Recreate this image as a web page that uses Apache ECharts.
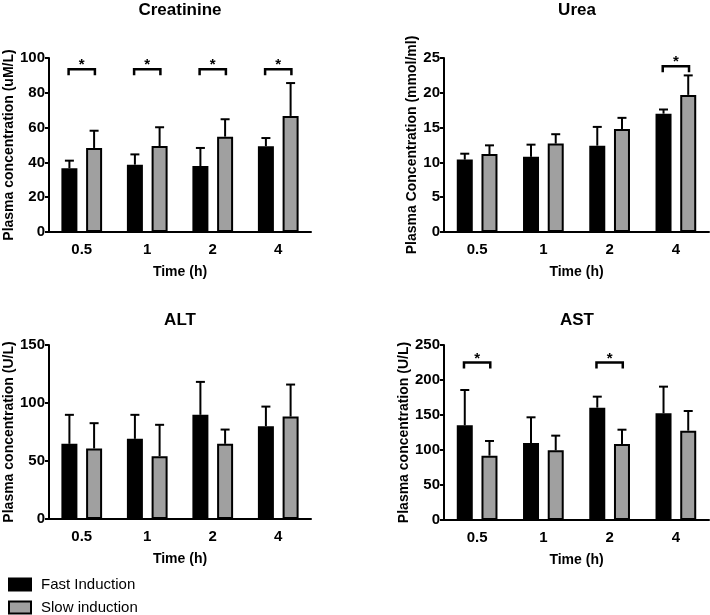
<!DOCTYPE html>
<html>
<head>
<meta charset="utf-8">
<script src="https://cdn.jsdelivr.net/npm/echarts@6/dist/echarts.min.js"></script>
<style>
  html, body { margin: 0; padding: 0; background: #fff; }
  #main { width: 710px; height: 615px; }
</style>
</head>
<body>
<div id="main"></div>
<script>
// time points (h)
var times = ['0.5', '1', '2', '4'];

// Creatinine (uM/L)
var creatFast = [36.6, 38.7, 37.9, 49.3];
var creatFastSd = [4.4, 5.9, 10.4, 4.7];
var creatSlow = [48.3, 49.4, 54.8, 66.7];
var creatSlowSd = [9.9, 10.8, 10.0, 18.9];
var creatSig = [[0, 93.5], [1, 93.5], [2, 93.5], [3, 93.5]];

// Urea (mmol/ml)
var ureaFast = [10.4, 10.8, 12.4, 17.0];
var ureaFastSd = [0.85, 1.75, 2.7, 0.6];
var ureaSlow = [11.2, 12.7, 14.8, 19.7];
var ureaSlowSd = [1.25, 1.35, 1.6, 2.8];
var ureaSig = [[3, 23.8]];

// ALT (U/L)
var altFast = [64.8, 69.1, 89.8, 80.0];
var altFastSd = [25.0, 20.7, 28.4, 16.9];
var altSlow = [60.8, 54.2, 64.8, 88.3];
var altSlowSd = [21.8, 27.0, 12.3, 27.6];
var altSig = [];

// AST (U/L)
var astFast = [135.2, 110.0, 160.5, 152.4];
var astFastSd = [50.5, 36.7, 15.7, 38.1];
var astSlow = [91.9, 99.5, 108.6, 127.6];
var astSlowSd = [21.0, 21.0, 20.4, 28.1];
var astSig = [[0, 225], [2, 225]];

var FONT = '"Liberation Sans", Arial, sans-serif';
var BAR_W = 16;
var GAP = 8.7;
var OFF = (BAR_W + GAP) / 2;

var myChart = echarts.init(document.getElementById('main'));

var panels = [
  {title: 'Creatinine', tx: 180, ty: 10, yName: 'Plasma concentration (uM/L)', max: 100, step: 20, nameGap: 33,
   grid: {left: 49, top: 58, width: 262, height: 174},
   fast: creatFast, fastSd: creatFastSd, slow: creatSlow, slowSd: creatSlowSd, sig: creatSig},
  {title: 'Urea', tx: 577, ty: 10, yName: 'Plasma Concentration (mmol/ml)', max: 25, step: 5, nameGap: 25,
   grid: {left: 444, top: 58, width: 265, height: 174},
   fast: ureaFast, fastSd: ureaFastSd, slow: ureaSlow, slowSd: ureaSlowSd, sig: ureaSig},
  {title: 'ALT', tx: 180, ty: 320, yName: 'Plasma concentration (U/L)', max: 150, step: 50, nameGap: 33,
   grid: {left: 49, top: 345, width: 262, height: 174},
   fast: altFast, fastSd: altFastSd, slow: altSlow, slowSd: altSlowSd, sig: altSig},
  {title: 'AST', tx: 577, ty: 320, yName: 'Plasma concentration (U/L)', max: 250, step: 50, nameGap: 32,
   grid: {left: 444, top: 345, width: 265, height: 175},
   fast: astFast, fastSd: astFastSd, slow: astSlow, slowSd: astSlowSd, sig: astSig}
];

function errSeries(i, vals, sds, side) {
  return {
    type: 'custom',
    xAxisIndex: i,
    yAxisIndex: i,
    z: 3,
    silent: true,
    data: vals.map(function (v, k) { return [k, v, sds[k]]; }),
    renderItem: function (params, api) {
      var base = api.coord([api.value(0), api.value(1)]);
      var top = api.coord([api.value(0), api.value(1) + api.value(2)]);
      var x = base[0] + side * OFF;
      var st = {stroke: '#000', lineWidth: 2};
      return {type: 'group', children: [
        {type: 'line', shape: {x1: x, y1: base[1], x2: x, y2: top[1]}, style: st},
        {type: 'line', shape: {x1: x - 4.5, y1: top[1], x2: x + 4.5, y2: top[1]}, style: st}
      ]};
    }
  };
}

function sigSeries(i, marks) {
  return {
    type: 'custom',
    xAxisIndex: i,
    yAxisIndex: i,
    z: 3,
    silent: true,
    data: marks,
    renderItem: function (params, api) {
      var p = api.coord([api.value(0), api.value(1)]);
      var l = p[0] - OFF - 0.8, r = p[0] + OFF + 0.8;
      return {type: 'group', children: [
        {type: 'polyline', shape: {points: [[l, p[1] + 6], [l, p[1]], [r, p[1]], [r, p[1] + 6]]},
         style: {stroke: '#000', lineWidth: 2.5, fill: null}},
        {type: 'text', x: p[0], y: p[1] - 4,
         style: {text: '*', fill: '#000', font: 'bold 15px ' + FONT, align: 'center', verticalAlign: 'middle'}}
      ]};
    }
  };
}

function legendItem(name, top) {
  return {
    data: [name],
    left: 8,
    top: top,
    padding: 0,
    itemWidth: 22,
    itemHeight: 12,
    icon: 'rect',
    selectedMode: false,
    textStyle: {fontSize: 15, fontFamily: FONT, color: '#000', padding: [0, 0, 0, 5]}
  };
}

var option = {
  animation: false,
  backgroundColor: '#fff',
  textStyle: {fontFamily: FONT, color: '#000'},
  grid: [],
  xAxis: [],
  yAxis: [],
  series: [],
  graphic: [],
  legend: [legendItem('Fast Induction', 577), legendItem('Slow induction', 600)]
};

panels.forEach(function (p, i) {
  option.grid.push(p.grid);
  option.xAxis.push({
    type: 'category',
    gridIndex: i,
    data: times,
    name: 'Time (h)',
    nameLocation: 'middle',
    nameGap: 33,
    nameTextStyle: {fontWeight: 'bold', fontSize: 14, color: '#000', fontFamily: FONT},
    axisLine: {lineStyle: {color: '#000', width: 2}},
    axisTick: {alignWithLabel: true, length: 4, lineStyle: {color: '#000', width: 2}},
    axisLabel: {fontWeight: 'bold', fontSize: 15, color: '#000', margin: 10, fontFamily: FONT}
  });
  option.yAxis.push({
    type: 'value',
    gridIndex: i,
    min: 0,
    max: p.max,
    interval: p.step,
    name: p.yName,
    nameLocation: 'middle',
    nameGap: p.nameGap,
    nameTextStyle: {fontWeight: 'bold', fontSize: 14, color: '#000', fontFamily: FONT},
    axisLine: {show: true, lineStyle: {color: '#000', width: 2}},
    axisTick: {show: true, length: 4, lineStyle: {color: '#000', width: 2}},
    axisLabel: {fontWeight: 'bold', fontSize: 15, color: '#000', margin: 4, fontFamily: FONT},
    splitLine: {show: false}
  });
  option.series.push({
    type: 'bar',
    name: 'Fast Induction',
    xAxisIndex: i,
    yAxisIndex: i,
    data: p.fast,
    barWidth: BAR_W,
    barGap: (GAP / BAR_W * 100) + '%',
    itemStyle: {color: '#000', borderColor: '#000', borderWidth: 2}
  });
  option.series.push({
    type: 'bar',
    name: 'Slow induction',
    xAxisIndex: i,
    yAxisIndex: i,
    data: p.slow,
    barWidth: BAR_W,
    barGap: (GAP / BAR_W * 100) + '%',
    itemStyle: {color: '#a0a0a0', borderColor: '#000', borderWidth: 2}
  });
  option.series.push(errSeries(i, p.fast, p.fastSd, -1));
  option.series.push(errSeries(i, p.slow, p.slowSd, 1));
  if (p.sig.length) option.series.push(sigSeries(i, p.sig));
  option.graphic.push({
    type: 'text',
    x: p.tx,
    y: p.ty,
    style: {text: p.title, fill: '#000', font: 'bold 17px ' + FONT, align: 'center', verticalAlign: 'middle'}
  });
});

myChart.setOption(option);
</script>
</body>
</html>
